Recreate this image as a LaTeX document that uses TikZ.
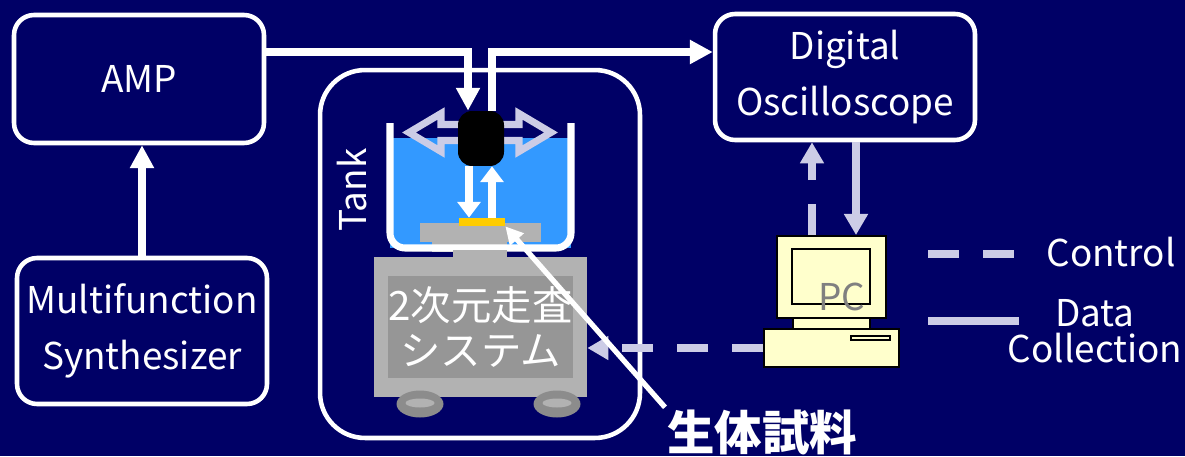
\documentclass[tikz,border=0pt]{standalone}
\usepackage{fontspec}
\usepackage{xcolor}
\setmainfont{Noto Sans CJK JP}
\usetikzlibrary{arrows.meta}
\definecolor{bgnavy}{RGB}{0, 0, 102}
\definecolor{lavender}{RGB}{204, 204, 230}
\definecolor{water}{RGB}{51, 153, 255}
\definecolor{stagegray}{RGB}{178, 178, 178}
\definecolor{panelgray}{RGB}{150, 150, 150}
\definecolor{wheelgray}{RGB}{140, 140, 140}
\definecolor{sampleyellow}{RGB}{255, 204, 0}
\definecolor{pcyellow}{RGB}{255, 255, 204}
\definecolor{pcgray}{RGB}{128, 128, 128}

\begin{document}
\begin{tikzpicture}[x=0.02cm, y=-0.02cm, text=white,
                    font=\fontsize{21}{32}\selectfont]
    \tikzstyle{box}   = [rectangle, rounded corners=0.4cm, draw=white,
                         line width=2.6pt, align=center, inner sep=0pt]
    \tikzstyle{arr}   = [-{Triangle[length=13pt, width=13pt]}, line width=4pt, white]
    \tikzstyle{small} = [-{Triangle[length=9pt, width=13pt]}, line width=4pt, white]
    \tikzstyle{dline} = [lavender, line width=4.4pt]
    \tikzstyle{cline} = [dline, dash pattern=on 17.6pt off 13.7pt]
    \tikzstyle{data}  = [dline, -{Triangle[length=12pt, width=13pt]}]
    \tikzstyle{ctl}   = [cline, -{Triangle[length=12pt, width=13pt]}]
    \tikzstyle{flat}  = [rectangle, inner sep=0pt]
    \tikzstyle{pcpart}= [flat, draw=black, line width=1.1pt, fill=pcyellow]

    \useasboundingbox (0,0) rectangle (1185,456);
    \fill[bgnavy] (0,0) rectangle (1185,456);

    %% Instruments
    \node[box, minimum width=5cm, minimum height=2.56cm]   at (139,79)  (amp) {AMP};
    \node[box, minimum width=5cm, minimum height=2.92cm]   at (142,331) (syn) {Multifunction\\Synthesizer};
    \node[box, minimum width=5.2cm, minimum height=2.52cm] at (845,77)  (osc) {Digital\\Oscilloscope};

    %% Tank frame
    \node[box, rounded corners=0.9cm, minimum width=6.4cm, minimum height=7.36cm]
      at (480,254) (tank) {};
    \node[rotate=90] at (352,190) (tanklbl) {Tank};

    %% Water bath and stage
    \fill[water] (390,138) rectangle (571,248);
    \fill[stagegray] (420,223) rectangle (541,242);
    \fill[stagegray] (432,242) rectangle (507,252);
    \draw[white, line width=4pt, rounded corners=0.3cm]
      (390,123) -- (390,248) -- (571,248) -- (571,123);
    \fill[stagegray] (453,250) rectangle (507,258);

    %% Scanning system
    \node[flat, fill=stagegray, minimum width=4.26cm, minimum height=2.8cm] at (480.5,327) (scan) {};
    \node[flat, fill=panelgray, minimum width=3.5cm, minimum height=2.04cm, align=center,
          font=\fontsize{23}{25.6}\selectfont] at (480.5,327) (scantxt) {2次元走査\\システム};
    \foreach \wx in {420,557} {
      \fill[wheelgray] (\wx,404) ellipse [x radius=0.47cm, y radius=0.27cm];
      \fill[stagegray] (\wx,403) ellipse [x radius=0.29cm, y radius=0.09cm];
    }

    %% Sample and probe
    \node[flat, fill=sampleyellow, minimum width=0.92cm, minimum height=0.16cm] at (482,222) (sample) {};
    \draw[lavender, line width=4pt]
      (409,132.5) -- (441,113.5) -- (441,124.5) -- (519,124.5) -- (519,113.5)
      -- (551,132.5) -- (519,151.5) -- (519,140.5) -- (441,140.5) -- (441,151.5) -- cycle;
    \node[flat, fill=black, rounded corners=8pt, minimum width=0.92cm, minimum height=1.1cm]
      at (481,138.5) (probe) {};

    \coordinate (dn) at (469,0);
    \coordinate (up) at (492,0);
    \draw[small] (probe.south -| dn) -- (sample.north -| dn);
    \draw[small] (sample.north -| up) -- (probe.south -| up);

    %% ── Signal path: AMP → probe → oscilloscope ─────────────────────────
    \coordinate (tx) at (468,52);
    \coordinate (rx) at (492,52);
    \draw[arr] (syn.north) -- (syn.north |- amp.south);
    \draw[arr] (amp.east |- tx) -- (tx) -- (probe.north -| tx);
    \draw[arr] (probe.north -| rx) -- (rx) -- (rx -| osc.west);

    %% PC
    \node[pcpart, minimum width=2.18cm, minimum height=1.64cm] at (831.5,277) (mon) {};
    \draw[black, line width=1.1pt] (792,249) rectangle (870,304);
    \node[pcpart, minimum width=1.54cm, minimum height=0.22cm] at (831.5,323.5) (neck) {};
    \node[pcpart, minimum width=2.7cm, minimum height=0.76cm] at (831.5,348) (pcbase) {};
    \draw[black, line width=1.1pt] (851,336) rectangle (890,340);
    \node[text=pcgray] at (842,297) (pclbl) {PC};

    %% ── PC links ─────────────────────────────────────────────────────────
    \coordinate (cx) at (812,0);
    \coordinate (dx) at (856,0);
    \draw[ctl]  (mon.north -| cx) -- (osc.south -| cx);
    \draw[data] (osc.south -| dx) -- (mon.north -| dx);
    \draw[ctl]  (pcbase.west) -- (pcbase.west -| scan.east);

    %% Legend
    \draw[cline] (928,254) -- (1017,254);
    \draw[dline] (928,321) -- (1019,321);
    \node at (1111,252) (ctlkey) {Control};
    \node[align=center, font=\fontsize{21}{20.5}\selectfont] at (1095,331) (datakey) {Data\\Collection};

    %% Specimen label
    \node[inner sep=1pt, font=\fontsize{27}{27}\selectfont\bfseries] at (762,432) (spec) {生体試料};
    \draw[white, line width=3pt, -{Triangle[length=10pt, width=10pt]}]
      (spec.north west) -- (sample.south east);
  \end{tikzpicture}
\end{document}
